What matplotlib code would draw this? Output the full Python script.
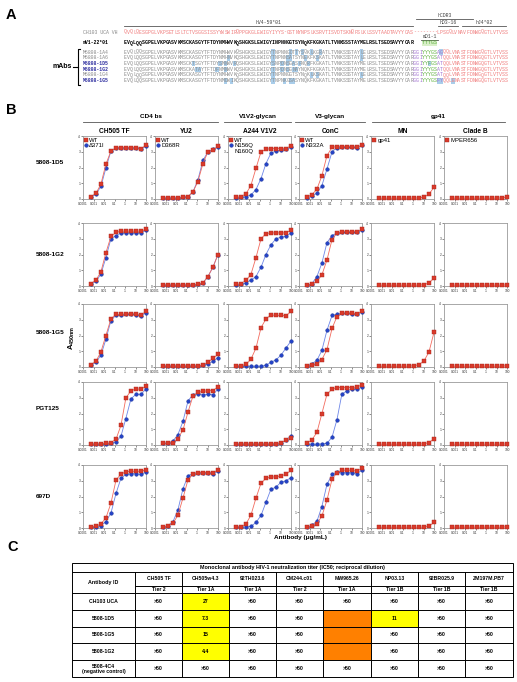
import matplotlib
matplotlib.use("Agg")
import matplotlib.pyplot as plt
from matplotlib.patches import Rectangle
from matplotlib.lines import Line2D

plt.rcParams["font.family"] = ["Liberation Sans", "DejaVu Sans"]
plt.rcParams["mathtext.fontset"] = "custom"
plt.rcParams["mathtext.bf"] = "Liberation Sans:bold"
plt.rcParams["mathtext.rm"] = "Liberation Sans"

W, H = 517, 682

# ---------------- panel A: alignment ----------------
uca_label = "CH103 UCA VH"
uca_seq = ("QVQLQESGPGLVKPSETLSLTCTVSGGSISSYYWSWIRQPPGKGLEWIGYIYYS-GSTNY"
           "NPSLKSRVTISVDTSKNQFSLKLSSVTAADTAVYYCAS--------LPSGQLVNAVFDNWGQGTLVTVSS")
germ_label = "mV1-22*01"
germ_seq = ("EVQLQQSGPELVKPGASVKMSCKASGYTFTDYNMHWVKQSHGKSLEWIGYINPNNGGTSY"
            "NQKFKGKATLTVNKSSSTAYMELRSLTSEDSAVYYCAR")
germ_d = "YYYGS"
mab_tail = "GGIYYYGSATQQLVNASTFDNWGQGTLVTVSS"
mab_names = ["M5808-1A4", "M5808-1A6", "M5808-1D5", "M5808-1G2", "M5808-1G4", "M5808-1G5"]
mab_neutralizing = [False, False, True, True, False, True]
# somatic mutations (position -> residue), highlighted in blue
mab_mutations = [
    {50: "T", 56: "D", 58: "T", 60: "S", 63: "L", 66: "R", 80: "L", 107: "G"},
    {35: "N", 50: "T", 55: "S", 56: "A", 61: "E", 65: "S", 80: "L"},
    {23: "T", 32: "S", 34: "N", 37: "R", 50: "S", 53: "D", 55: "S", 57: "A", 59: "F", 62: "R", 103: "F"},
    {24: "T", 25: "A", 31: "F", 34: "N", 50: "T", 53: "D", 55: "S", 57: "N", 58: "A"},
    {50: "T", 63: "L", 65: "S", 80: "L"},
    {34: "D", 36: "I", 50: "T", 54: "K", 56: "S", 57: "A", 106: "F", 107: "Y", 111: "E"},
]

# ---------------- panel B: ELISA binding ----------------
conc = [0.00056, 0.0017, 0.0051, 0.015, 0.046, 0.14, 0.41, 1.2, 3.7, 11, 33, 100]
row_names = ["5808-1D5", "5808-1G2", "5808-1G5", "PGT125", "697D"]
env_names = ["CH505 TF", "YU2", "A244 V1V2", "ConC", "MN", "Clade B"]
wt_names = ["WT", "WT", "WT", "WT", "gp41", "MPER656"]
mut_names = ["\u0394371I", "D368R", "N156Q", "N332A", None, None]
epitope_groups = ["CD4 bs", "V1V2-glycan", "V3-glycan", "gp41"]

wt_1d5 = [
    [0.15, 0.35, 0.95, 2.2, 3.05, 3.25, 3.25, 3.25, 3.25, 3.25, 3.2, 3.4],
    [0.05, 0.05, 0.05, 0.05, 0.1, 0.15, 0.45, 1.1, 2.25, 3.0, 3.1, 3.35],
    [0.1, 0.15, 0.33, 0.85, 1.95, 3.0, 3.15, 3.2, 3.2, 3.2, 3.2, 3.38],
    [0.13, 0.27, 0.63, 1.47, 2.75, 3.28, 3.33, 3.33, 3.33, 3.33, 3.28, 3.42],
    [0.05, 0.05, 0.05, 0.05, 0.05, 0.05, 0.05, 0.05, 0.07, 0.12, 0.3, 0.75],
    [0.05, 0.05, 0.05, 0.05, 0.05, 0.05, 0.05, 0.05, 0.05, 0.05, 0.07, 0.12],
]
mut_1d5 = [
    [0.13, 0.3, 0.8, 1.95, 3.05, 3.25, 3.25, 3.25, 3.25, 3.25, 3.2, 3.35],
    [0.05, 0.05, 0.05, 0.05, 0.1, 0.15, 0.45, 1.2, 2.45, 3.0, 3.15, 3.3],
    [0.05, 0.1, 0.15, 0.25, 0.6, 1.3, 2.25, 2.9, 3.05, 3.1, 3.15, 3.3],
    [0.08, 0.17, 0.38, 0.84, 1.9, 3.0, 3.26, 3.3, 3.28, 3.28, 3.26, 3.4],
    None, None,
]
wt_1g2 = [
    [0.15, 0.37, 0.9, 2.1, 3.15, 3.4, 3.48, 3.48, 3.48, 3.48, 3.48, 3.6],
    [0.05, 0.05, 0.05, 0.05, 0.05, 0.05, 0.07, 0.1, 0.2, 0.6, 1.2, 2.0],
    [0.1, 0.15, 0.35, 0.72, 1.8, 3.0, 3.33, 3.37, 3.37, 3.37, 3.37, 3.55],
    [0.05, 0.1, 0.3, 0.7, 1.65, 2.95, 3.37, 3.45, 3.45, 3.45, 3.45, 3.6],
    [0.05, 0.05, 0.05, 0.05, 0.05, 0.05, 0.05, 0.05, 0.05, 0.08, 0.2, 0.5],
    [0.05, 0.05, 0.05, 0.05, 0.05, 0.05, 0.05, 0.05, 0.05, 0.05, 0.05, 0.07],
]
mut_1g2 = [
    [0.12, 0.3, 0.75, 1.8, 3.0, 3.2, 3.37, 3.37, 3.37, 3.37, 3.37, 3.55],
    [0.05, 0.05, 0.05, 0.05, 0.05, 0.05, 0.07, 0.1, 0.2, 0.6, 1.2, 2.0],
    [0.05, 0.1, 0.2, 0.37, 0.6, 1.2, 2.0, 2.6, 3.0, 3.1, 3.15, 3.37],
    [0.05, 0.15, 0.6, 1.45, 2.75, 3.2, 3.37, 3.4, 3.4, 3.4, 3.4, 3.55],
    None, None,
]
wt_1g5 = [
    [0.15, 0.36, 0.96, 1.99, 3.06, 3.34, 3.34, 3.38, 3.38, 3.36, 3.27, 3.55],
    [0.05, 0.05, 0.05, 0.05, 0.05, 0.05, 0.05, 0.07, 0.12, 0.3, 0.55, 0.8],
    [0.05, 0.08, 0.17, 0.48, 1.2, 2.5, 3.05, 3.3, 3.28, 3.28, 3.25, 3.53],
    [0.05, 0.12, 0.17, 0.47, 1.1, 2.45, 3.2, 3.4, 3.45, 3.4, 3.37, 3.53],
    [0.05, 0.05, 0.05, 0.05, 0.05, 0.05, 0.05, 0.08, 0.15, 0.38, 0.95, 2.2],
    [0.05, 0.05, 0.05, 0.05, 0.05, 0.05, 0.05, 0.05, 0.05, 0.05, 0.05, 0.08],
]
mut_1g5 = [
    [0.12, 0.3, 0.75, 1.75, 2.95, 3.3, 3.3, 3.35, 3.35, 3.33, 3.25, 3.45],
    [0.05, 0.05, 0.05, 0.05, 0.05, 0.05, 0.05, 0.05, 0.1, 0.2, 0.35, 0.6],
    [0.05, 0.05, 0.05, 0.05, 0.05, 0.05, 0.1, 0.3, 0.45, 0.75, 1.2, 1.65],
    [0.08, 0.2, 0.43, 1.05, 2.33, 3.27, 3.35, 3.4, 3.4, 3.38, 3.35, 3.5],
    None, None,
]
wt_pgt125 = [
    [0.05, 0.05, 0.07, 0.1, 0.15, 0.37, 1.24, 2.97, 3.46, 3.55, 3.55, 3.72],
    [0.1, 0.1, 0.15, 0.41, 0.95, 2.1, 3.1, 3.35, 3.4, 3.45, 3.45, 3.7],
    [0.05, 0.05, 0.05, 0.05, 0.05, 0.05, 0.05, 0.05, 0.07, 0.15, 0.3, 0.45],
    [0.1, 0.33, 0.8, 1.99, 3.22, 3.55, 3.65, 3.65, 3.65, 3.65, 3.67, 3.83],
    [0.05, 0.05, 0.05, 0.05, 0.05, 0.05, 0.05, 0.05, 0.05, 0.08, 0.15, 0.4],
    [0.05, 0.05, 0.05, 0.05, 0.05, 0.05, 0.05, 0.05, 0.05, 0.05, 0.05, 0.07],
]
mut_pgt125 = [
    [0.05, 0.05, 0.05, 0.08, 0.12, 0.2, 0.55, 1.68, 2.93, 3.22, 3.22, 3.55],
    [0.1, 0.1, 0.25, 0.65, 1.5, 2.8, 3.2, 3.25, 3.2, 3.22, 3.2, 3.55],
    [0.05, 0.05, 0.05, 0.05, 0.05, 0.05, 0.05, 0.05, 0.07, 0.15, 0.3, 0.6],
    [0.05, 0.05, 0.05, 0.07, 0.1, 0.5, 1.6, 3.22, 3.45, 3.55, 3.55, 3.68],
    None, None,
]
wt_697d = [
    [0.06, 0.1, 0.26, 0.63, 1.58, 3.05, 3.42, 3.57, 3.6, 3.6, 3.6, 3.7],
    [0.07, 0.13, 0.3, 0.8, 1.9, 3.07, 3.42, 3.52, 3.52, 3.52, 3.5, 3.7],
    [0.07, 0.07, 0.26, 0.8, 1.9, 2.85, 3.15, 3.24, 3.24, 3.32, 3.4, 3.67],
    [0.07, 0.1, 0.28, 0.75, 1.77, 3.1, 3.52, 3.67, 3.67, 3.67, 3.6, 3.78],
    [0.05, 0.05, 0.05, 0.05, 0.05, 0.05, 0.05, 0.05, 0.05, 0.05, 0.12, 0.35],
    [0.05, 0.05, 0.05, 0.05, 0.05, 0.05, 0.05, 0.05, 0.05, 0.05, 0.05, 0.08],
]
mut_697d = [
    [0.05, 0.07, 0.15, 0.4, 0.95, 2.2, 3.15, 3.4, 3.45, 3.45, 3.4, 3.55],
    [0.05, 0.15, 0.4, 1.13, 2.49, 3.32, 3.46, 3.52, 3.52, 3.52, 3.46, 3.6],
    [0.05, 0.05, 0.07, 0.1, 0.35, 0.8, 1.63, 2.45, 2.6, 2.9, 3.0, 3.2],
    [0.05, 0.17, 0.43, 1.36, 2.77, 3.4, 3.57, 3.52, 3.52, 3.52, 3.46, 3.67],
    None, None,
]
wt_rows = [wt_1d5, wt_1g2, wt_1g5, wt_pgt125, wt_697d]
mut_rows = [mut_1d5, mut_1g2, mut_1g5, mut_pgt125, mut_697d]

# ---------------- panel C: neutralization table ----------------
viruses = ["CH505 TF", "CH505w4.3", "92TH023.6", "CM244.c01", "MW965.26", "NP03.13", "92BR025.9", "ZM197M.PB7"]
tiers = ["Tier 2", "Tier 1A", "Tier 1A", "Tier 2", "Tier 1A", "Tier 1B", "Tier 1B", "Tier 1B"]
antibody_ids = ["CH103 UCA", "5808-1D5", "5808-1G5", "5808-1G2", "5808-4C4\n(negative control)"]
titers = [
    [">50", "27", ">50", ">50", ">50", ">50", ">50", ">50"],
    [">50", "7.3", ">50", ">50", "", "11", ">50", ">50"],
    [">50", "15", ">50", ">50", "", ">50", ">50", ">50"],
    [">50", "4.4", ">50", ">50", "", ">50", ">50", ">50"],
    [">50", ">50", ">50", ">50", ">50", ">50", ">50", ">50"],
]
# y = yellow, o = orange, blank = none
cell_fill = [
    ["", "y", "", "", "", "", "", ""],
    ["", "y", "", "", "o", "y", "", ""],
    ["", "y", "", "", "o", "", "", ""],
    ["", "y", "", "", "o", "", "", ""],
    ["", "", "", "", "", "", "", ""],
]

fig = plt.figure(figsize=(W / 100, H / 100), dpi=100)
canvas = fig.add_axes([0, 0, 1, 1])
canvas.set_xlim(0, W)
canvas.set_ylim(H, 0)
canvas.axis("off")


def px_rect(left, top, w, h):
    return [left / W, 1 - (top + h) / H, w / W, h / H]


# panel letters
for letter, (lx, ly) in zip("ABC", [(6, 15), (6, 110), (7, 547)]):
    canvas.text(lx, ly, letter, fontsize=10.5, fontweight="bold", va="center", ha="left")

# ---- alignment drawing (one glyph per residue so columns line up) ----
MONO = "Liberation Mono"
CW = 2.95
SX = 124
SFS = 3.5
GRAY = "#8a8a8a"
SEQRED = "#f07c7c"
PURPLE = "#a070d0"
GREEN = "#5cb03c"
HILITE = "#a9cdea"


def draw_seq(y, seq, segments, weight="normal"):
    for start, end, col in segments:
        for k in range(start, min(end, len(seq))):
            if seq[k] == " ":
                continue
            canvas.text(SX + (k + 0.5) * CW, y, seq[k], fontfamily=MONO, fontsize=SFS,
                        color=col, va="center", ha="center", fontweight=weight)


def annot(x0, x1, y, label, ly):
    canvas.plot([x0, x1], [y, y], color="#555555", lw=0.6)
    canvas.text((x0 + x1) / 2, ly, label, fontfamily=MONO, fontsize=SFS, color="#444444",
                ha="center", va="center")


annot(124, 413, 26, "hV4-59*01", 22.5)
annot(416, 473, 18.5, "hCDR3", 15.3)
annot(438, 458, 26, "hD3-16", 22.5)
annot(462, 506, 26, "hJ4*02", 22.5)
annot(421, 438, 39.5, "mD1-1", 36.5)

label_x = 83
canvas.text(label_x, 32, uca_label, fontfamily=MONO, fontsize=SFS, color=GRAY, va="center")
draw_seq(32, uca_seq, [(0, len(uca_seq), SEQRED)])

canvas.text(label_x, 43, germ_label, fontfamily=MONO, fontsize=SFS, color="black",
            va="center", fontweight="bold")
draw_seq(43, germ_seq, [(0, len(germ_seq), "black")], weight="bold")
canvas.add_patch(Rectangle((SX + 101 * CW, 40.3), 5 * CW, 5.4, color="#d8efc8", lw=0))
draw_seq(43, " " * 101 + germ_d, [(101, 106, GREEN)])

mab_y = [52, 57.8, 63.5, 69.3, 75, 80.8]
for name, neut, muts, y in zip(mab_names, mab_neutralizing, mab_mutations, mab_y):
    seq = list(germ_seq + mab_tail)
    for pos, aa in muts.items():
        seq[pos] = aa
        canvas.add_patch(Rectangle((SX + pos * CW - 0.2, y - 2.8), CW + 0.4, 5.6,
                                   color=HILITE, lw=0))
    seq = "".join(seq)
    canvas.text(label_x, y, name, fontfamily=MONO, fontsize=SFS,
                color="#3030a0" if neut else GRAY, va="center",
                fontweight="bold" if neut else "normal")
    draw_seq(y, seq, [(0, 98, GRAY), (98, 101, PURPLE), (101, 106, GREEN),
                      (106, 108, PURPLE), (108, len(seq), SEQRED)])

# bracket for mAbs
canvas.plot([80, 77.5, 77.5, 80], [48.5, 48.5, 84.5, 84.5], color="black", lw=0.8)
canvas.plot([73, 77.5], [66.5, 66.5], color="black", lw=0.8)
canvas.text(72, 66.5, "mAbs", fontsize=5, fontweight="bold", ha="right", va="center")

# ---- panel B ----
col_left = [83, 155, 228, 299, 371, 444]
row_top = [136, 223, 304, 382, 465]
AX_W, AX_H = 63, 63
RED, RED_EDGE, RED_LINE = "#d93a2b", "#a8231a", "#f36b5e"
BLUE, BLUE_EDGE, BLUE_LINE = "#2342c8", "#182f90", "#6d86e8"
xticks = [0.0001, 0.001, 0.01, 0.1, 1, 10, 100]
xticklabels = ["0.0001", "0.001", "0.01", "0.1", "1", "10", "100"]

# epitope group headers
group_spans = [(83, 218), (224, 291), (295, 365), (372, 505)]
for gname, (g0, g1) in zip(epitope_groups, group_spans):
    canvas.plot([g0, g1], [121.5, 121.5], color="#555555", lw=0.6)
    canvas.text((g0 + g1) / 2, 116.5, gname, fontsize=4.6, fontweight="bold",
                ha="center", va="center")

row_label_y = [163, 254, 332, 409, 497]
for r, (rname, wts, muts) in enumerate(zip(row_names, wt_rows, mut_rows)):
    canvas.text(36, row_label_y[r], rname, fontsize=4.6, fontweight="bold",
                ha="left", va="center")
    for c in range(6):
        ax = fig.add_axes(px_rect(col_left[c], row_top[r], AX_W, AX_H))
        if muts[c] is not None:
            ax.plot(conc, muts[c], color=BLUE_LINE, lw=0.6, marker="o", ms=2.6,
                    mfc=BLUE, mec=BLUE_EDGE, mew=0.3, clip_on=False, zorder=3)
        ax.plot(conc, wts[c], color=RED_LINE, lw=0.6, marker="s", ms=2.7,
                mfc=RED, mec=RED_EDGE, mew=0.3, clip_on=False, zorder=4)
        ax.set_xscale("log")
        ax.set_xlim(0.0001, 100)
        ax.set_ylim(0, 4)
        ax.set_xticks(xticks)
        ax.set_xticklabels(xticklabels)
        ax.minorticks_off()
        ax.set_yticks([0, 1, 2, 3, 4])
        ax.tick_params(labelsize=2.3, length=1.2, width=0.4, pad=0.8, colors="#333333")
        for sp in ax.spines.values():
            sp.set_color("#9a9a9a")
            sp.set_linewidth(0.6)
        if r == 0:
            ax.set_title(env_names[c], fontsize=4.8, fontweight="bold", pad=2.5)
            handles = [Line2D([], [], ls="", marker="s", ms=2.7, mfc=RED, mec=RED_EDGE,
                              mew=0.3, label=wt_names[c])]
            if mut_names[c] is not None:
                handles.append(Line2D([], [], ls="", marker="o", ms=2.6, mfc=BLUE,
                                      mec=BLUE_EDGE, mew=0.3, label=mut_names[c]))
            if c == 2:
                handles.append(Line2D([], [], ls="", marker="", label="N160Q"))
            ax.legend(handles=handles, loc="upper left", frameon=False, fontsize=4.3,
                      handlelength=0.5, handletextpad=0.3, borderaxespad=0.15,
                      labelspacing=0.05, borderpad=0.1)

canvas.text(72, 338, r"$\mathbf{A}_{\mathbf{450nm}}$", fontsize=5.5, rotation=90,
            ha="center", va="center")
canvas.text(300, 537.5, "Antibody (\u03bcg/mL)", fontsize=4.6, fontweight="bold",
            ha="center", va="center")

# ---- panel C table ----
col_x = [72, 135, 182, 229, 276, 323, 371, 418, 465, 513]
row_y = [563, 572, 586, 593, 610, 627, 643, 660, 677]
FILLS = {"y": "#ffff00", "o": "#ff8000"}
TFS = 3.7
for i in range(len(antibody_ids)):
    for j in range(len(viruses)):
        f = cell_fill[i][j]
        if f:
            canvas.add_patch(Rectangle((col_x[j + 1], row_y[3 + i]),
                                       col_x[j + 2] - col_x[j + 1], row_y[4 + i] - row_y[3 + i],
                                       color=FILLS[f], lw=0))
        canvas.text((col_x[j + 1] + col_x[j + 2]) / 2, (row_y[3 + i] + row_y[4 + i]) / 2,
                    titers[i][j], fontsize=TFS, fontweight="bold", ha="center", va="center")
    canvas.text((col_x[0] + col_x[1]) / 2, (row_y[3 + i] + row_y[4 + i]) / 2,
                antibody_ids[i], fontsize=TFS, fontweight="bold", ha="center", va="center",
                linespacing=1.0)
for j in range(len(viruses)):
    xc = (col_x[j + 1] + col_x[j + 2]) / 2
    canvas.text(xc, (row_y[1] + row_y[2]) / 2, viruses[j], fontsize=TFS, fontweight="bold",
                ha="center", va="center")
    canvas.text(xc, (row_y[2] + row_y[3]) / 2, tiers[j], fontsize=TFS, fontweight="bold",
                ha="center", va="center")
canvas.text((col_x[0] + col_x[-1]) / 2, (row_y[0] + row_y[1]) / 2,
            "Monoclonal antibody HIV-1 neutralization titer (IC50; reciprocal dilution)",
            fontsize=3.9, fontweight="bold", ha="center", va="center")
canvas.text((col_x[0] + col_x[1]) / 2, (row_y[1] + row_y[3]) / 2, "Antibody ID",
            fontsize=TFS + 0.2, fontweight="bold", ha="center", va="center")

LW = 0.7
canvas.add_patch(Rectangle((col_x[0], row_y[0]), col_x[-1] - col_x[0], row_y[-1] - row_y[0],
                           fill=False, ec="black", lw=LW))
for yy in [row_y[1], row_y[3], row_y[4], row_y[5], row_y[6], row_y[7]]:
    canvas.plot([col_x[0], col_x[-1]], [yy, yy], color="black", lw=LW)
canvas.plot([col_x[1], col_x[-1]], [row_y[2], row_y[2]], color="black", lw=LW)
for xx in col_x[1:-1]:
    canvas.plot([xx, xx], [row_y[1], row_y[-1]], color="black", lw=LW)

fig.savefig("out.png", dpi=100)
